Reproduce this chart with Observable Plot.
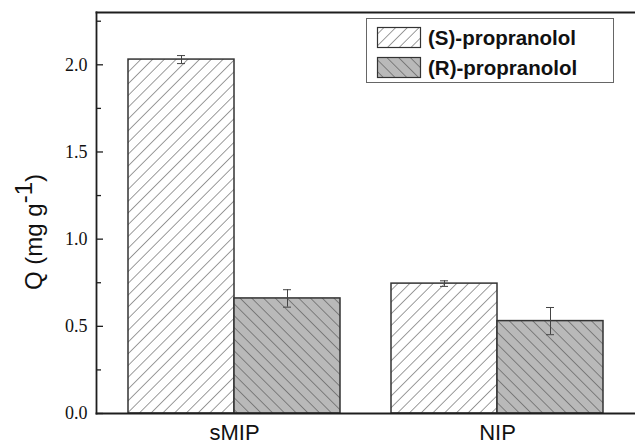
<!DOCTYPE html>
<html><head><meta charset="utf-8">
<script src="https://cdn.jsdelivr.net/npm/d3@7"></script>
<script src="https://cdn.jsdelivr.net/npm/@observablehq/plot@0.6"></script>
<style>html,body{margin:0;padding:0;background:#fff;overflow:hidden}</style>
</head><body><div id="chart"></div>
<script>
const groups = ["sMIP", "NIP"];
const seriesKeys = ["S", "R"];
const seriesNames = ["(S)-propranolol", "(R)-propranolol"];
const sValues = [2.03, 0.745];
const sErrors = [0.023, 0.016];
const rValues = [0.66, 0.53];
const rErrors = [0.05, 0.078];
const yTicks = [0, 0.5, 1.0, 1.5, 2.0];
const yMinorTicks = [0.25, 0.75, 1.25, 1.75, 2.25];
const yLabelMain = "Q (mg g";
const yLabelSup = "-1";

const rows = [];
groups.forEach((g, i) => {
  rows.push({group: g, series: "S", value: sValues[i], err: sErrors[i]});
  rows.push({group: g, series: "R", value: rValues[i], err: rErrors[i]});
});
const S = rows.filter(d => d.series === "S");
const R = rows.filter(d => d.series === "R");
const half = 106;
const dark = "#333";
const frameCol = "#1e1e1e";
const fmt = d3.format(".1f");

const plot = Plot.plot({
  width: 635, height: 445,
  marginLeft: 96, marginRight: 0, marginTop: 12, marginBottom: 32,
  style: {background: "#fff", color: "#111", fontFamily: "'Liberation Serif', 'Times New Roman', serif"},
  x: {domain: groups, paddingInner: 0.194, paddingOuter: 0.1217},
  y: {domain: [0, 2.3]},
  marks: [
    Plot.barY(S, {x: "group", y: "value", fill: "url(#hatchS)", stroke: dark, strokeWidth: 1.5, insetRight: half}),
    Plot.barY(R, {x: "group", y: "value", fill: "url(#hatchR)", stroke: dark, strokeWidth: 1.5, insetLeft: half}),
    Plot.ruleX(S, {x: "group", y1: d => d.value - d.err, y2: d => d.value + d.err, dx: -half / 2, stroke: "#444"}),
    Plot.ruleX(R, {x: "group", y1: d => d.value - d.err, y2: d => d.value + d.err, dx: half / 2, stroke: "#444"}),
    Plot.tickY(S, {x: "group", y: d => d.value + d.err, insetLeft: 49, insetRight: 155, stroke: "#444"}),
    Plot.tickY(S, {x: "group", y: d => d.value - d.err, insetLeft: 49, insetRight: 155, stroke: "#444"}),
    Plot.tickY(R, {x: "group", y: d => d.value + d.err, insetLeft: 155, insetRight: 49, stroke: "#444"}),
    Plot.tickY(R, {x: "group", y: d => d.value - d.err, insetLeft: 155, insetRight: 49, stroke: "#444"}),
    Plot.axisY({ticks: yTicks, tickFormat: fmt, tickSize: 0, tickPadding: 9, fontSize: 18, label: null}),
    Plot.axisY({ticks: yTicks, anchor: "right", frameAnchor: "left", tickSize: 6, text: null, label: null, stroke: frameCol, strokeWidth: 1.3}),
    Plot.axisY({ticks: yMinorTicks, anchor: "right", frameAnchor: "left", tickSize: 4, text: null, label: null, stroke: frameCol, strokeWidth: 1.3}),
    Plot.axisX({tickSize: 0, tickPadding: 11, fontSize: 22, label: null}),
    Plot.frame({anchor: "left", stroke: frameCol, strokeWidth: 1.8}),
    Plot.frame({anchor: "top", stroke: frameCol, strokeWidth: 1.8}),
    Plot.frame({anchor: "bottom", stroke: frameCol, strokeWidth: 1.8})
  ]
});

const svg = d3.select(plot);
const yLabelTexts = yTicks.map(fmt);
svg.selectAll("text").each(function () {
  const t = d3.select(this);
  const s = this.textContent;
  if (yLabelTexts.includes(s)) {
    t.attr("font-family", "Liberation Serif").style("font-family", "'Liberation Serif', serif")
      .style("font-size", "18px").attr("fill", "#111");
  } else if (groups.includes(s)) {
    t.attr("font-family", "Liberation Sans").style("font-family", "'Liberation Sans', Arial, sans-serif")
      .style("font-size", "22px").attr("fill", "#111");
  }
});

const defs = svg.insert("defs", ":first-child");
function hatch(id, bg, angle) {
  const p = defs.append("pattern").attr("id", id).attr("patternUnits", "userSpaceOnUse")
    .attr("width", 8.3).attr("height", 8.3).attr("patternTransform", `rotate(${angle})`);
  p.append("rect").attr("width", 8.3).attr("height", 8.3).attr("fill", bg);
  p.append("line").attr("x1", 0).attr("y1", 0).attr("x2", 0).attr("y2", 8.3)
    .attr("stroke", "#4a4a4a").attr("stroke-width", 1.1);
}
hatch("hatchS", "#fff", 45);
hatch("hatchR", "#b9b9b9", -45);

// legend
const lg = svg.append("g").style("font-family", "'Liberation Sans', Arial, sans-serif").attr("text-anchor", "start");
lg.append("rect").attr("x", 366.5).attr("y", 18.5).attr("width", 247).attr("height", 64)
  .attr("fill", "#fff").attr("stroke", "#666").attr("stroke-width", 1);
seriesKeys.forEach((k, i) => {
  lg.append("rect").attr("x", 377.5).attr("y", 27.5 + i * 30).attr("width", 43).attr("height", 20)
    .attr("fill", "url(#hatch" + k + ")").attr("stroke", dark).attr("stroke-width", 1.2);
  lg.append("text").attr("x", 428).attr("y", 44.5 + i * 30).style("font-size", "20.5px").attr("font-weight", "bold")
    .attr("text-anchor", "start").attr("fill", "#111").text(seriesNames[i]);
});

// y label
const yl = svg.append("text").attr("transform", "translate(42,232) rotate(-90)")
  .attr("text-anchor", "middle").style("font-family", "'Liberation Sans', Arial, sans-serif")
  .style("font-size", "24px").attr("fill", "#111");
yl.append("tspan").text(yLabelMain);
yl.append("tspan").attr("dy", -10).text(yLabelSup);
yl.append("tspan").attr("dy", 10).text(")");

document.getElementById("chart").appendChild(plot);
</script>
</body></html>
